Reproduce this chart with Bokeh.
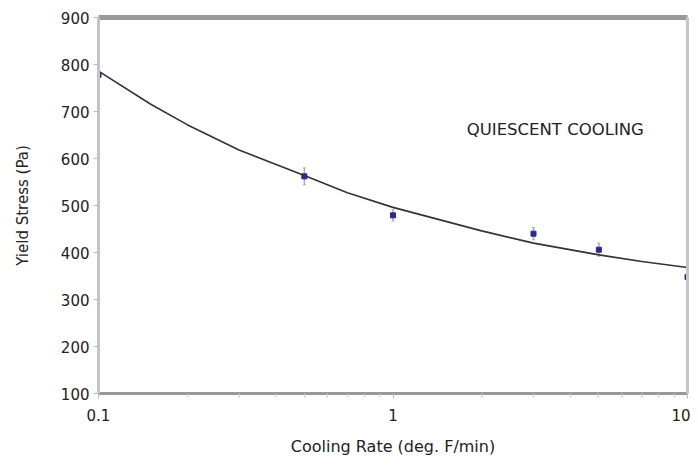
from bokeh.plotting import figure
from bokeh.models import (LogAxis, LinearAxis, FixedTicker, Label, Range1d, Whisker,
                          ColumnDataSource, CustomJSTickFormatter)
from bokeh.embed import file_html
from bokeh.resources import INLINE

# Measured points
rate = [0.1, 0.5, 1, 3, 5, 10]
stress = [778, 562, 479, 440, 406, 348]
err = [19, 18, 12, 13, 14, 12]

# Fitted curve
fit_rate = [0.1, 0.15, 0.2, 0.3, 0.5, 0.7, 1, 2, 3, 5, 7, 10]
fit_stress = [786, 716, 672, 618, 564, 527, 496, 446, 420, 395, 381, 368]

y_ticks = [100, 200, 300, 400, 500, 600, 700, 800, 900]
x_ticks = [0.1, 1, 10]

FONT = "DejaVu Sans"

p = figure(width=690, height=459, x_axis_type="log", output_backend="svg",
           toolbar_location=None, x_range=Range1d(0.1, 10), y_range=Range1d(100, 900),
           min_border_left=98, min_border_right=3, min_border_top=17, min_border_bottom=66)
p.outline_line_color = None
p.grid.visible = False
p.background_fill_color = "white"

p.line(fit_rate, fit_stress, line_color="#333333", line_width=1.6)

src = ColumnDataSource(dict(x=rate, y=stress, lo=[s - e for s, e in zip(stress, err)],
                            hi=[s + e for s, e in zip(stress, err)]))
w = Whisker(source=src, base="x", lower="lo", upper="hi", line_color="#aaaaaa", line_width=1.5)
w.upper_head.size = 3
w.lower_head.size = 3
w.upper_head.line_color = "#aaaaaa"
w.lower_head.line_color = "#aaaaaa"
p.add_layout(w)
p.scatter("x", "y", source=src, marker="square", size=5, fill_color="#2a2a8a", line_color="#2a2a8a")

# axes styling
xa = p.xaxis[0]
xa.ticker = FixedTicker(ticks=x_ticks, minor_ticks=[0.2, 0.3, 0.4, 0.5, 0.6, 0.7, 0.8, 0.9, 2, 3, 4, 5, 6, 7, 8, 9])
xa.formatter = CustomJSTickFormatter(code="return String(tick);")
xa.axis_line_color = "#999999"
xa.axis_line_width = 3
xa.major_tick_line_color = "#bbbbbb"
xa.minor_tick_line_color = "#cccccc"
xa.major_tick_out = 5
xa.major_tick_in = 0
xa.minor_tick_out = 4
xa.minor_tick_in = 0
xa.major_label_text_font = FONT
xa.major_label_text_font_size = "15px"
xa.major_label_text_color = "#222222"
xa.major_label_standoff = 10
xa.axis_label = "Cooling Rate (deg. F/min)"
xa.axis_label_text_font = FONT
xa.axis_label_text_font_size = "16px"
xa.axis_label_text_font_style = "normal"
xa.axis_label_text_color = "#222222"
xa.axis_label_standoff = 13

ya = p.yaxis[0]
ya.ticker = FixedTicker(ticks=y_ticks)
ya.axis_line_color = "#c4c4c4"
ya.axis_line_width = 3
ya.major_tick_line_color = "#bbbbbb"
ya.major_tick_out = 5
ya.major_tick_in = 0
ya.minor_tick_line_color = None
ya.major_label_text_font = FONT
ya.major_label_text_font_size = "15px"
ya.major_label_text_color = "#222222"
ya.major_label_standoff = 4
ya.axis_label = "Yield Stress (Pa)"
ya.axis_label_text_font = FONT
ya.axis_label_text_font_size = "15px"
ya.axis_label_text_font_style = "normal"
ya.axis_label_text_color = "#222222"
ya.axis_label_standoff = 26

top = LogAxis(ticker=FixedTicker(ticks=[]), axis_line_color="#999999", axis_line_width=5,
              major_tick_line_color=None, minor_tick_line_color=None)
p.add_layout(top, "above")
right = LinearAxis(ticker=FixedTicker(ticks=[]), axis_line_color="#c4c4c4", axis_line_width=3,
                   major_tick_line_color=None, minor_tick_line_color=None)
p.add_layout(right, "right")

p.add_layout(Label(x=1.78, y=662, text="QUIESCENT COOLING", text_font=FONT,
                   text_font_size="16.5px", text_color="#222222", text_baseline="middle",
                   text_align="left"))

open("out.html", "w").write(file_html(p, INLINE))
